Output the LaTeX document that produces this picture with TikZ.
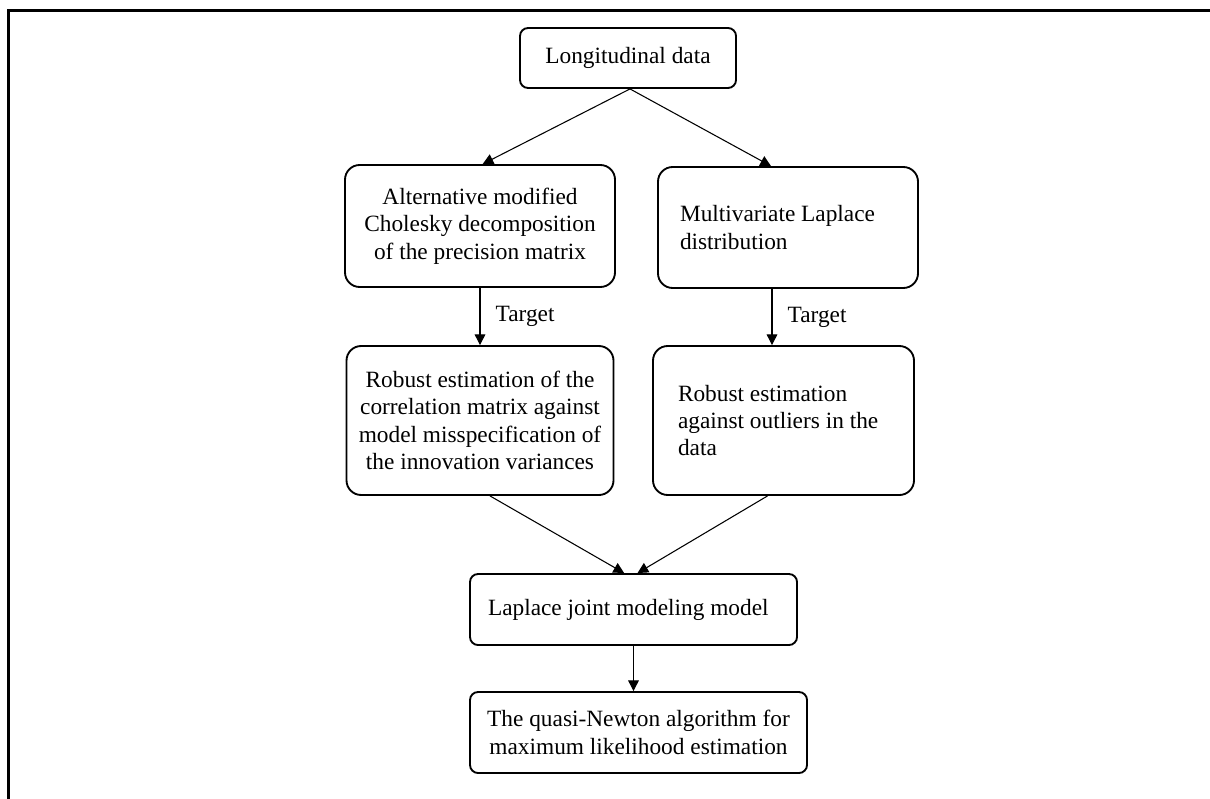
\documentclass[tikz,border=0pt]{standalone}
\usepackage{fontspec}
\setmainfont{Liberation Serif}
\usetikzlibrary{arrows.meta}

\begin{document}
\begin{tikzpicture}[x=0.75pt,y=-0.75pt,
  box/.style={draw,line width=1.4pt,rounded corners=11pt,align=center,inner sep=0pt,
    font=\fontsize{17.5}{20.5}\selectfont},
  lbox/.style={box,align=flush left,inner ysep=0pt},
  link/.style={line width=0.8pt,-{Triangle[length=8pt,width=8pt]}},
  lab/.style={font=\fontsize{17.5}{20.5}\selectfont}]
\useasboundingbox (0,0) rectangle (1210,799);

% frame
\draw[line width=2.25pt] (8,799) -- (8,11) -- (1210,11);

% boxes
\node[box,rounded corners=6pt,minimum width=162pt,minimum height=45pt] (data) at (628,58) {Longitudinal data};
\node[box,minimum width=202.5pt,minimum height=91.5pt] (chol) at (480,226)
  {Alternative modified\\Cholesky decomposition\\of the precision matrix};
\node[lbox,inner xsep=16.5pt,text width=162pt,minimum height=90.75pt] (mld) at (788,227.5)
  {Multivariate Laplace\\distribution};
\node[box,minimum width=200.25pt,minimum height=111.75pt] (corr) at (480,420.5)
  {Robust estimation of the\\correlation matrix against\\model misspecification of\\the innovation variances};
\node[lbox,inner xsep=18.75pt,text width=158.25pt,minimum height=111.75pt] (outl) at (783.5,420.5)
  {Robust estimation\\against outliers in the\\data};
\node[lbox,rounded corners=6pt,inner xsep=13.5pt,text width=218.25pt,minimum height=53.25pt] (ljm) at (633.5,609.5)
  {Laplace joint modeling model};
\node[box,rounded corners=6pt,minimum width=252.75pt,minimum height=60.75pt] (qn) at (638.5,732.5)
  {The quasi-Newton algorithm for\\maximum likelihood estimation};

% connectors
\draw[link] ([xshift=1.5pt]data.south) -- ([xshift=2pt]chol.north);
\draw[link] ([xshift=1.5pt]data.south) -- ([xshift=-12.75pt]mld.north);
\draw[link] (chol.south) -- (corr.north) node[midway,right=8pt,lab]{Target};
\draw[link] ([xshift=-12pt]mld.south) -- ([xshift=-12pt]mld.south |- outl.north) node[midway,right=8pt,lab]{Target};
\draw[link] ([xshift=7.5pt]corr.south) -- ([xshift=-7pt]ljm.north);
\draw[link] ([xshift=-12pt]outl.south) -- ([xshift=3pt]ljm.north);
\draw[link] (ljm.south) -- (ljm.south |- qn.north);
\end{tikzpicture}
\end{document}
